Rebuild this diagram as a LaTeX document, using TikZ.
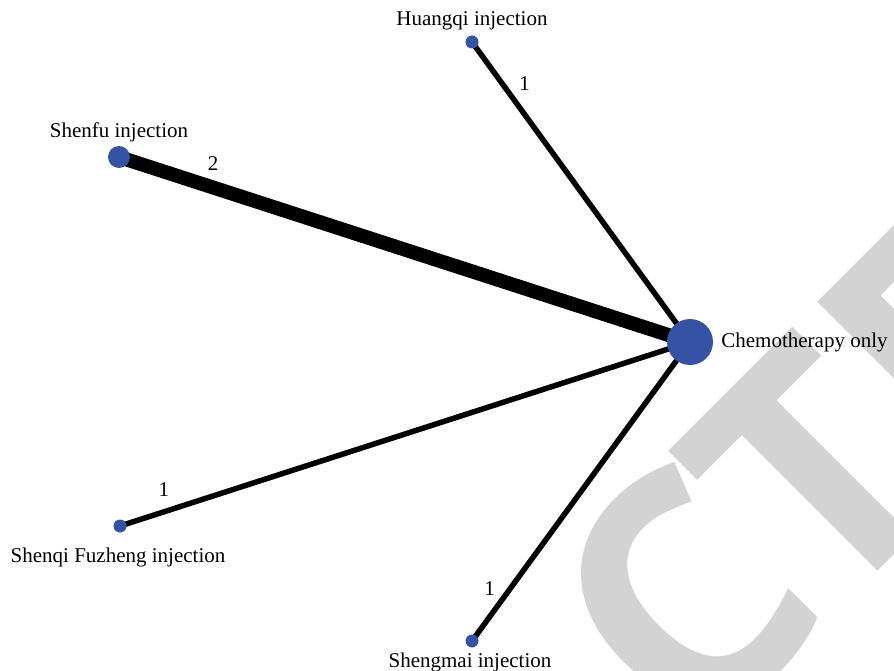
\documentclass[tikz,border=0pt]{standalone}
\usepackage{fontspec}
\setmainfont{Liberation Serif}
\newfontfamily\marksans{Open Sans}
\usetikzlibrary{positioning}

\definecolor{trtblue}{RGB}{54,82,164}
\definecolor{markgray}{RGB}{211,211,211}

\pgfdeclarelayer{mark}
\pgfdeclarelayer{lines}
\pgfsetlayers{mark,lines,main}

\tikzset{
  arm/.style={circle, fill=trtblue, inner sep=0pt, minimum size=#1},
  armlabel/.style={font=\fontsize{21}{25}\selectfont, inner sep=0pt},
  num/.style={font=\fontsize{21}{25}\selectfont, inner sep=0pt},
  onestudy/.style={line width=5.5pt},
  twostudy/.style={line width=14pt},
  watermark/.style={text=markgray, inner sep=0pt, anchor=base west, rotate=45, font=\marksans\bfseries\fontsize{326}{326}\selectfont}
}

\begin{document}
\begin{tikzpicture}[x=1pt, y=-1pt]
\useasboundingbox (0,0) rectangle (894,671);

\node[arm=46pt] (chemo) at (690,342) {};
\node[arm=22pt] (shenfu) at (119,157) {};
\node[arm=13pt] (huangqi) at (472,42) {};
\node[arm=13pt] (shenqi) at (120,526) {};
\node[arm=13pt] (shengmai) at (472,641) {};

\node[armlabel, right=8pt of chemo] (chemo-l) {Chemotherapy only};
\node[armlabel, above=4pt of shenfu] (shenfu-l) {Shenfu injection};
\node[armlabel, above=5pt of huangqi] (huangqi-l) {Huangqi injection};
\node[armlabel, below=15pt of shenqi, xshift=-2pt] (shenqi-l) {Shenqi Fuzheng injection};
\node[armlabel, below=5pt of shengmai, xshift=-2pt] (shengmai-l) {Shengmai injection};

\begin{pgfonlayer}{lines}
\draw[twostudy] (shenfu.center) -- node[num, pos=0.165, yshift=24pt] (n-shenfu) {2} (chemo.center);
\foreach \arm/\p/\dx/\dy in {huangqi/0.14/22/0, shenqi/0.077/0/22, shengmai/0.177/-21/0}
  \draw[onestudy] (\arm.center) -- node[num, pos=\p, xshift=\dx pt, yshift=\dy pt] (n-\arm) {1} (chemo.center);
\end{pgfonlayer}

% watermark
\begin{pgfonlayer}{mark}
\begin{scope}
\clip (0,0) rectangle (894,671);
\node[watermark] (mark-c) at (691,757) {C};
\node[watermark] (mark-te) at (828,621) {TE};
\end{scope}
\end{pgfonlayer}

\end{tikzpicture}
\end{document}
